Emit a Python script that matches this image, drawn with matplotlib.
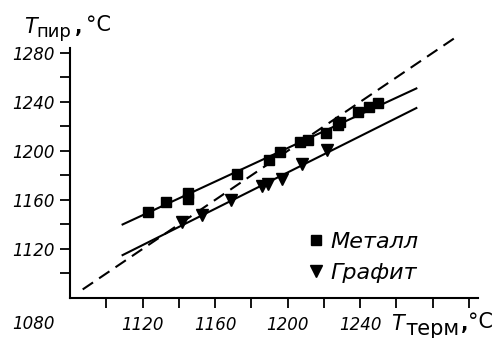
import matplotlib
matplotlib.use("Agg")
import matplotlib.pyplot as plt
import numpy as np

# metal points (squares)
metal_x = [1123, 1133, 1145, 1145, 1172, 1190, 1196, 1207, 1211, 1221, 1228, 1229, 1239, 1245, 1250]
metal_y = [1150, 1158, 1166, 1161, 1181, 1193, 1199, 1207, 1209, 1215, 1221, 1224, 1232, 1236, 1239]

# graphite points (down triangles)
graph_x = [1142, 1153, 1169, 1186, 1189, 1197, 1208, 1222]
graph_y = [1142, 1148, 1160, 1171, 1173, 1177, 1189, 1201]

# fitted lines and the T_pyr = T_therm reference
fit_x = [1109, 1271]
metal_fit_y = [1140, 1251]
graph_fit_y = [1115, 1235]
ref_x = [1087, 1294]

x_ticks = np.arange(1100, 1301, 20)
x_labels = [1120, 1160, 1200, 1240]
y_ticks = np.arange(1100, 1281, 20)
y_labels = [1120, 1160, 1200, 1240, 1280]

W, H = 492, 338
fig = plt.figure(figsize=(W / 100, H / 100), dpi=100)
ax = fig.add_axes([70 / W, 1 - 298 / H, 408 / W, 250 / H])

ax.plot(ref_x, ref_x, color="black", lw=1.5, dashes=(6, 3.5), clip_on=False)
ax.plot(fit_x, metal_fit_y, color="black", lw=1.5)
ax.plot(fit_x, graph_fit_y, color="black", lw=1.5)
ax.plot(metal_x, metal_y, "s", color="black", ms=7.5, label="Металл")
ax.plot(graph_x, graph_y, "v", color="black", ms=8.5, label="Графит")

ax.set_xlim(1080, 1305)
ax.set_ylim(1080, 1284)

for s in ["top", "right"]:
    ax.spines[s].set_visible(False)
for s in ["left", "bottom"]:
    ax.spines[s].set_linewidth(1.5)

font = dict(family="DejaVu Sans", style="italic")
ax.set_xticks(x_ticks)
ax.set_xticklabels([str(t) if t in x_labels else "" for t in x_ticks], fontsize=12, **font)
ax.set_yticks(y_ticks)
ax.set_yticklabels([str(t) if t in y_labels else "" for t in y_ticks], fontsize=12, **font)
ax.tick_params(axis="x", length=7, width=1.3, pad=6)
ax.tick_params(axis="y", length=7, width=1.3, pad=4)

leg = ax.legend(loc="lower left", bbox_to_anchor=(0.535, -0.02), frameon=False,
                handlelength=0.7, handletextpad=0.3, labelspacing=0.5,
                prop=dict(family="DejaVu Sans", style="italic", size=16))

def ftext(px, py, s, **kw):
    fig.text(px / W, 1 - py / H, s, va="baseline", **kw)

# corner label
ftext(33, 329, "1080", ha="center", fontsize=12, **font)

# y axis label
ftext(24, 33, "T", fontsize=15, **font)
ftext(36, 37, "пир", fontsize=13, family="DejaVu Sans")
ftext(75, 33, ",", fontsize=14, family="DejaVu Sans", weight="bold")
ftext(86, 31, "°C", fontsize=15, family="DejaVu Sans")

# x axis label
ftext(391, 330, "T", fontsize=15, **font)
ftext(405, 335, "терм", fontsize=15, family="DejaVu Sans")
ftext(461, 330, ",", fontsize=14, family="DejaVu Sans", weight="bold")
ftext(468, 328, "°C", fontsize=15, family="DejaVu Sans")

fig.savefig("out.png", dpi=100)
